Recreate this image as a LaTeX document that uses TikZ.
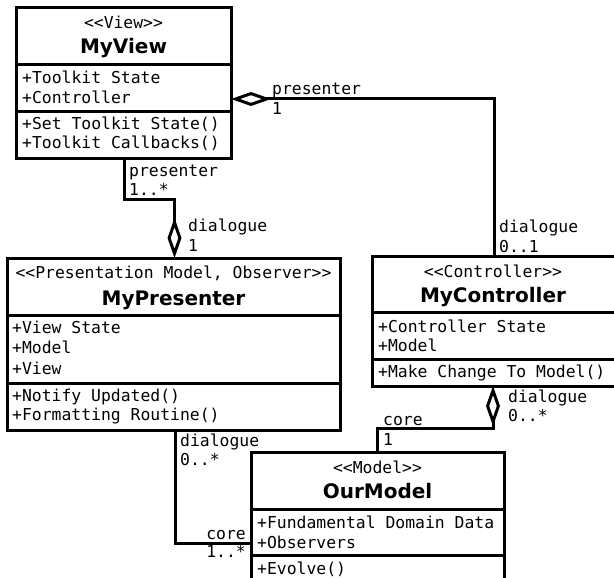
\documentclass[tikz,border=0pt]{standalone}
\usepackage{fontspec}
\setmainfont{DejaVu Sans}
\setmonofont{DejaVu Sans Mono}
\usetikzlibrary{arrows.meta}

\tikzset{
  umlbox/.style={draw, line width=3pt, inner sep=0pt, outer sep=0pt, anchor=north west},
  divider/.style={line width=3pt},
  member/.style={anchor=base west, inner sep=0pt, font=\fontsize{16.4}{19}\ttfamily},
  stereo/.style={anchor=base, inner sep=0pt, font=\fontsize{16.4}{19}\ttfamily},
  classname/.style={anchor=base, inner sep=0pt, font=\fontsize{20}{24}\selectfont\bfseries},
  role/.style={anchor=base west, inner sep=0pt, font=\fontsize{16.4}{19}\ttfamily},
  roleR/.style={anchor=base east, inner sep=0pt, font=\fontsize{16.4}{19}\ttfamily},
  link/.style={line width=3pt, line join=miter},
  aggr/.style={{Diamond[open,length=40pt,width=14pt]}-}
}

\begin{document}
\begin{tikzpicture}[x=1pt,y=-1pt]
\useasboundingbox (0,0) rectangle (614,578);
\clip (0,0) rectangle (614,578);

% ---- MyView ----
\node[umlbox, minimum width=215pt, minimum height=150pt] (view) at (16,8) {};
\draw[divider] (view.west |- 0,65) -- (view.east |- 0,65);
\draw[divider] (view.west |- 0,112) -- (view.east |- 0,112);
\node[stereo] (viewst) at (123.5,29) {<<View>>};
\node[classname] (viewnm) at (123.5,54) {MyView};
\node[member] (viewa1) at (22,84) {+Toolkit State};
\node[member] (viewa2) at (22,103) {+Controller};
\node[member] (viewm1) at (22,130) {+Set Toolkit State()};
\node[member] (viewm2) at (22,149) {+Toolkit Callbacks()};

% ---- MyPresenter ----
\node[umlbox, minimum width=333pt, minimum height=172pt] (pres) at (7,258) {};
\draw[divider] (pres.west |- 0,315) -- (pres.east |- 0,315);
\draw[divider] (pres.west |- 0,383) -- (pres.east |- 0,383);
\node[stereo] (presst) at (173.5,278) {<<Presentation Model, Observer>>};
\node[classname] (presnm) at (173.5,305) {MyPresenter};
\node[member] (presa1) at (12,333) {+View State};
\node[member] (presa2) at (12,353) {+Model};
\node[member] (presa3) at (12,374) {+View};
\node[member] (presm1) at (12,401) {+Notify Updated()};
\node[member] (presm2) at (12,420) {+Formatting Routine()};

% ---- MyController ----
\node[umlbox, minimum width=244pt, minimum height=130pt] (ctrl) at (372,256) {};
\draw[divider] (ctrl.west |- 0,312) -- (ctrl.east |- 0,312);
\draw[divider] (ctrl.west |- 0,359) -- (ctrl.east |- 0,359);
\node[stereo] (ctrlst) at (493,277) {<<Controller>>};
\node[classname] (ctrlnm) at (493,302) {MyController};
\node[member] (ctrla1) at (378,332) {+Controller State};
\node[member] (ctrla2) at (378,351) {+Model};
\node[member] (ctrlm1) at (378,377) {+Make Change To Model()};

% ---- OurModel ----
\node[umlbox, minimum width=253pt, minimum height=150pt] (model) at (251,452) {};
\draw[divider] (model.west |- 0,509) -- (model.east |- 0,509);
\draw[divider] (model.west |- 0,555) -- (model.east |- 0,555);
\node[stereo] (modelst) at (377.5,473) {<<Model>>};
\node[classname] (modelnm) at (377.5,498) {OurModel};
\node[member] (modela1) at (257,528) {+Fundamental Domain Data};
\node[member] (modela2) at (257,548) {+Observers};
\node[member] (modelm1) at (257,574) {+Evolve()};

% ---- associations ----
% view <>-- presenter
\draw[link, aggr] (pres.north -| 174.5,0) -- (174.5,199) -- (124,199) -- (view.south -| 124,0);
\node[role] (r1) at (129,176) {presenter};
\node[role] (r2) at (129,195) {1..*};
\node[role] (r3) at (188,231) {dialogue};
\node[role] (r4) at (188,251) {1};

% view <>-- controller
\draw[link, aggr] (view.east |- 0,99) -- (494,99) -- (ctrl.north -| 494,0);
\node[role] (r5) at (272,95) {presenter};
\node[role] (r6) at (272,115) {1};
\node[role] (r7) at (499,232) {dialogue};
\node[role] (r8) at (499,252) {0..1};

% controller <>-- model
\draw[link, aggr] (ctrl.south -| 493,0) -- (493,428) -- (377,428) -- (model.north -| 377,0);
\node[role] (r9) at (508,402) {dialogue};
\node[role] (r10) at (508,421) {0..*};
\node[role] (r11) at (383,425) {core};
\node[role] (r12) at (383,445) {1};

% presenter --- model
\draw[link] (pres.south -| 175,0) -- (175,543) -- (model.west |- 0,543);
\node[role] (r13) at (180,446) {dialogue};
\node[role] (r14) at (180,465) {0..*};
\node[roleR] (r15) at (246,539) {core};
\node[roleR] (r16) at (246,557) {1..*};
\end{tikzpicture}
\end{document}
